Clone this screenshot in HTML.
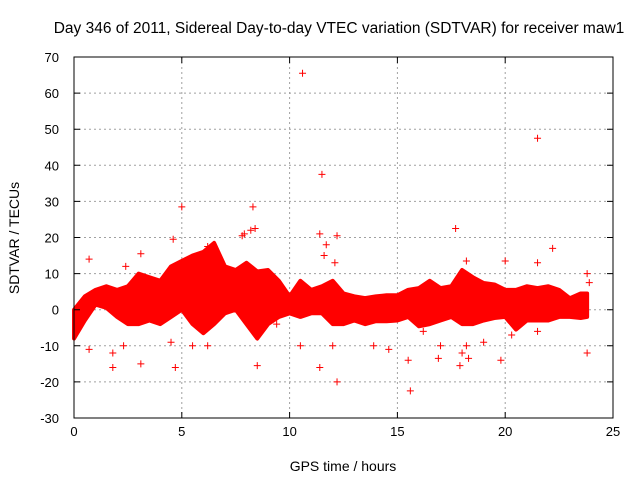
<!DOCTYPE html>
<html><head><meta charset="utf-8"><style>
body{margin:0;background:#fff}
svg{display:block;font-family:"Liberation Sans",sans-serif}
</style></head><body>
<svg id="chart" width="640" height="480"></svg>
<script>
const hours=[0,0.5,1,1.5,2,2.5,3,3.5,4,4.5,5,5.5,6,6.5,7,7.5,8,8.5,9,9.5,10,10.5,11,11.5,12,12.5,13,13.5,14,14.5,15,15.5,16,16.5,17,17.5,18,18.5,19,19.5,20,20.5,21,21.5,22,22.5,23,23.5,23.8];
const upper=[0,3.7,5.5,6.5,5.5,6.5,10,9,8,12,13.5,15,16,18.5,12,11,13,10.6,11,8,3.7,8,5.5,6.5,8,4.5,3.7,3.2,3.7,4,4,5.5,6,8,6,6.5,11,9,7.4,7,5.5,5.5,6.5,6,6.5,5.5,3.2,4.5,4.5];
const lower=[-8,-3,1.4,0.5,-2,-4,-4,-3,-4,-2,0,-4,-6.5,-4,-1,0,-4,-8,-4,-2,-1,-2,-1,-1,-4,-4,-3,-4,-3.2,-3.2,-3,-2,-4.6,-4,-3,-2,-4,-4,-3,-2.3,-2,-5.5,-3,-3,-3,-2,-2,-2.3,-2];
const outHours=[10.6,21.5,11.5,5.0,8.3,8.4,8.2,17.7,4.6,11.4,12.2,11.7,22.2,6.2,3.1,7.8,20,18.2,21.5,23.8,23.9,0.7,2.4,1.8,0.7,3.1,4.7,8.5,10.5,11.4,12.2,15.6,15.5,16.9,17.9,18.3,19.8,23.8,20.3,21.5,13.9,14.6,16.2,18.2,19,2.3,1.8,6.2,9.4,12,17,4.5,5.5,11.6,12.1,18.1,18.0,7.9];
const outVals=[65.5,47.5,37.5,28.5,28.5,22.5,22,22.5,19.5,21,20.5,18,17,17.5,15.5,20.5,13.5,13.5,13,10,7.5,14,12,-16,-11,-15,-16,-15.5,-10,-16,-20,-22.5,-14,-13.5,-15.5,-13.5,-14,-12,-7,-6,-10,-11,-6,-10,-9,-10,-12,-10,-4,-10,-10,-9,-10,15,13,10,-12,21];
const xTicks=[0,5,10,15,20,25];
const yTicks=[-30,-20,-10,0,10,20,30,40,50,60,70];
const L=74,R=613,T=57,B=418;
const xs=h=>L+h/25*(R-L);
const ys=v=>B-(v+30)/100*(B-T);
const svg=document.getElementById('chart');
const NS='http://www.w3.org/2000/svg';
function mk(tag,attrs,parent){const e=document.createElementNS(NS,tag);for(const k in attrs)e.setAttribute(k,attrs[k]);(parent||svg).appendChild(e);return e;}
xTicks.forEach(t=>{if(t>0&&t<25){const g=mk('line',{x1:xs(t),x2:xs(t),y1:T,y2:B,stroke:'#a0a0a0','stroke-dasharray':'2,3'});

}});
yTicks.forEach(t=>{if(t>-30&&t<70){const g=mk('line',{x1:L,x2:R,y1:ys(t),y2:ys(t),stroke:'#a0a0a0','stroke-dasharray':'2,3'});

}});
let pts=hours.map((h,i)=>xs(h)+','+ys(upper[i]));
for(let i=hours.length-1;i>=0;i--)pts.push(xs(hours[i])+','+ys(lower[i]));
const band=mk('polygon',{points:pts.join(' '),fill:'#ff0000',stroke:'#ff0000','stroke-width':4,'stroke-linejoin':'round'});


outHours.forEach((h,i)=>{const x=xs(h),y=ys(outVals[i]);
const p=mk('path',{d:`M${x-3.5},${y}H${x+3.5}M${x},${y-3.5}V${y+3.5}`,stroke:'#ff0000','stroke-width':1});

});
const fr=mk('rect',{x:L,y:T,width:R-L,height:B-T,fill:'none',stroke:'#000'});


xTicks.forEach(t=>{mk('path',{d:`M${xs(t)},${B}v-6M${xs(t)},${T}v6`,stroke:'#000'});
const tx=mk('text',{x:xs(t),y:B+18,'text-anchor':'middle','font-size':13,fill:'#000'});tx.textContent=t;

});
yTicks.forEach(t=>{mk('path',{d:`M${L},${ys(t)}h6M${R},${ys(t)}h-6`,stroke:'#000'});
const tx=mk('text',{x:L-15,y:ys(t)+5,'text-anchor':'end','font-size':13,fill:'#000'});tx.textContent=t;

});
const ti=mk('text',{x:339,y:33,'text-anchor':'middle','font-size':15.5,fill:'#000'});ti.textContent='Day 346 of 2011, Sidereal Day-to-day VTEC variation (SDTVAR) for receiver maw1';


const xt=mk('text',{x:343,y:471,'text-anchor':'middle','font-size':14,fill:'#000'});xt.textContent='GPS time / hours';


const yt=mk('text',{x:0,y:0,'text-anchor':'middle','font-size':14,fill:'#000',transform:'translate(19,238) rotate(-90)'});yt.textContent='SDTVAR / TECUs';


</script>
</body></html>
